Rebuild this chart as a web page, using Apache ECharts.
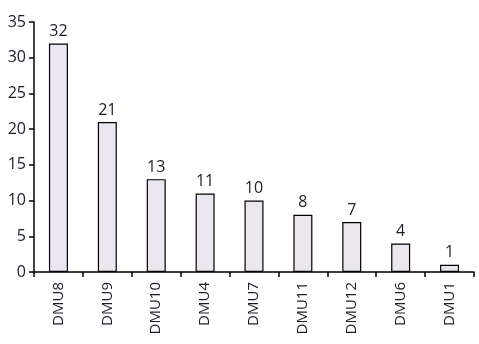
<!DOCTYPE html>
<html><head><meta charset="utf-8">
<script src="https://cdn.jsdelivr.net/npm/echarts@6/dist/echarts.min.js"></script>
<style>html,body{margin:0;padding:0;background:#fff}#c{width:479px;height:344px}</style>
</head><body><div id="c"></div>
<script>
const categories = ['DMU8','DMU9','DMU10','DMU4','DMU7','DMU11','DMU12','DMU6','DMU1'];
const values = [32,21,13,11,10,8,7,4,1];
const yTicks = [0,5,10,15,20,25,30,35];
const chart = echarts.init(document.getElementById('c'));
const txt = '#1c1c2a';
chart.setOption({
  animation:false,
  grid:{left:34,right:5,top:22,bottom:72},
  xAxis:{type:'category',data:categories,
    axisLine:{lineStyle:{color:'#000',width:1.5}},
    axisTick:{show:true,length:5,lineStyle:{color:'#000',width:1.5}},
    axisLabel:{rotate:90,color:txt,fontSize:15,fontFamily:'Open Sans',margin:10}},
  yAxis:{type:'value',min:yTicks[0],max:yTicks[yTicks.length-1],interval:5,
    splitLine:{show:false},
    axisLine:{show:true,lineStyle:{color:'#000',width:1.5}},
    axisTick:{show:true,length:5,lineStyle:{color:'#000',width:1.5}},
    axisLabel:{color:txt,fontSize:16,fontFamily:'Open Sans',margin:8}},
  series:[{type:'bar',data:values,barWidth:19,
    itemStyle:{color:'#ebe6f0',borderColor:'#000',borderWidth:1.2},
    label:{show:true,position:'top',color:txt,fontSize:16,fontFamily:'Open Sans',distance:4}}]
});
</script></body></html>
